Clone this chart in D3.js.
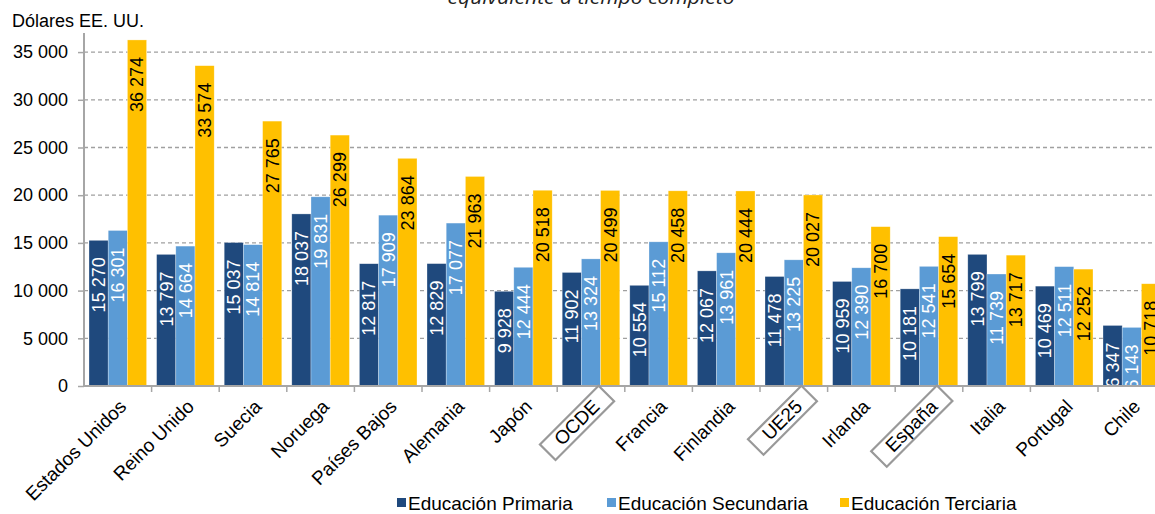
<!DOCTYPE html>
<html><head><meta charset="utf-8">
<script src="https://cdn.jsdelivr.net/npm/d3@7"></script>
<style>
html,body{margin:0;padding:0;background:#fff;}
svg{display:block;font-family:"Liberation Sans",Arial,sans-serif;}
</style></head>
<body><svg id="c" width="1155" height="514"></svg>
<script>
const categories = ["Estados Unidos","Reino Unido","Suecia","Noruega","Países Bajos","Alemania","Japón","OCDE","Francia","Finlandia","UE25","Irlanda","España","Italia","Portugal","Chile"];
const primaria   = [15270,13797,15037,18037,12817,12829,9928,11902,10554,12067,11478,10959,10181,13799,10469,6347];
const secundaria = [16301,14664,14814,19831,17909,17077,12444,13324,15112,13961,13225,12390,12541,11739,12511,6143];
const terciaria  = [36274,33574,27765,26299,23864,21963,20518,20499,20458,20444,20027,16700,15654,13717,12252,10718];
const seriesNames = ["Educación Primaria","Educación Secundaria","Educación Terciaria"];
const seriesColors = ["#1F497D","#5B9BD5","#FFC000"];
const labelColors = ["#ffffff","#ffffff","#000000"];
const boxed = ["OCDE","UE25","España"];
const yTicks = [0,5000,10000,15000,20000,25000,30000,35000];
const yTitle = "Dólares EE. UU.";
const chartTitle = "equivalente a tiempo completo";

const svg = d3.select("#c");
const left = 84, zeroY = 386, topY = 33;
const bandW = 67.6;
const x0 = d3.scaleBand().domain(categories).range([left, left + bandW*categories.length]).padding(0);
const x1 = d3.scaleBand().domain([0,1,2]).range([5, bandW-5]).padding(0);
const y = d3.scaleLinear().domain([0,37000]).range([zeroY, topY]);
const fmt = v => { const s = String(v); return s.length > 3 ? s.slice(0, s.length-3) + " " + s.slice(-3) : s; };

// title (cut off at top)
svg.append("text").attr("x", 591).attr("y", 4).attr("text-anchor","middle")
  .attr("font-family","'Open Sans',sans-serif").attr("font-style","italic").attr("font-size",18)
  .attr("textLength",287).attr("lengthAdjust","spacingAndGlyphs").attr("fill","#222").text(chartTitle);

// y title
svg.append("text").attr("x",12).attr("y",27).attr("font-size",18).attr("fill","#000").text(yTitle);

// gridlines
svg.append("g").selectAll("line").data(yTicks.filter(d=>d>0)).join("line")
  .attr("x1",left).attr("x2",1155).attr("y1",d=>y(d)).attr("y2",d=>y(d))
  .attr("stroke","#a0a0a0").attr("stroke-width",1.3).attr("stroke-dasharray","4,3");

// y axis
const yAxis = svg.append("g").attr("transform",`translate(${left},0)`)
  .call(d3.axisLeft(y).tickValues(yTicks).tickFormat(fmt).tickSize(6).tickPadding(10));
yAxis.select(".domain").remove();
yAxis.selectAll(".tick line").attr("stroke","#a6a6a6").attr("stroke-width",1.5);
yAxis.selectAll(".tick text").attr("font-size",18).attr("font-family","'Liberation Sans',Arial,sans-serif").attr("fill","#000");
svg.append("line").attr("x1",left).attr("x2",left).attr("y1",topY).attr("y2",zeroY)
  .attr("stroke","#a6a6a6").attr("stroke-width",2);

// bars
const data = categories.map((c,i)=>({cat:c, vals:[primaria[i],secundaria[i],terciaria[i]]}));
const groups = svg.append("g").selectAll("g").data(data).join("g")
  .attr("transform",d=>`translate(${x0(d.cat)},0)`);
groups.selectAll("rect").data(d=>d.vals.map((v,k)=>({v,k}))).join("rect")
  .attr("x",d=>x1(d.k)).attr("width",x1.bandwidth())
  .attr("y",d=>y(d.v)).attr("height",d=>zeroY-y(d.v))
  .attr("fill",d=>seriesColors[d.k]).attr("stroke","rgba(255,255,255,0.5)").attr("stroke-width",0.6);
groups.selectAll("text.lab").data(d=>d.vals.map((v,k)=>({v,k}))).join("text").attr("class","lab")
  .attr("transform",d=>`translate(${x1(d.k)+x1.bandwidth()/2},${y(d.v)+17}) rotate(-90)`)
  .attr("text-anchor","end").attr("dy","0.35em").attr("font-size",18)
  .attr("fill",d=>labelColors[d.k]).text(d=>fmt(d.v));

// x axis line and ticks
svg.append("line").attr("x1",left).attr("x2",1155).attr("y1",zeroY).attr("y2",zeroY)
  .attr("stroke","#a6a6a6").attr("stroke-width",2);
svg.append("g").selectAll("line").data(categories).join("line")
  .attr("x1",d=>x0(d)+bandW).attr("x2",d=>x0(d)+bandW).attr("y1",zeroY).attr("y2",zeroY+6)
  .attr("stroke","#a6a6a6").attr("stroke-width",1.5);

// category labels
const cl = svg.append("g").selectAll("g").data(categories).join("g")
  .attr("transform",d=>`translate(${x0(d)+bandW/2+5},${zeroY+17}) rotate(-45)`);
cl.append("text").attr("text-anchor","end").attr("dy","0.35em").attr("font-size",19).attr("fill","#000").text(d=>d);
cl.filter(d=>boxed.includes(d)).each(function(){
  const g = d3.select(this);
  const bb = g.select("text").node().getBBox();
  g.insert("rect","text").attr("x",bb.x-14).attr("y",bb.y).attr("width",bb.width+28).attr("height",bb.height+1)
    .attr("fill","none").attr("stroke","#999").attr("stroke-width",2.2);
});

// legend
const legX = [397,607,840];
const leg = svg.append("g").selectAll("g").data(seriesNames).join("g")
  .attr("transform",(d,i)=>`translate(${legX[i]},503)`);
leg.append("rect").attr("x",0).attr("y",-5).attr("width",9).attr("height",9).attr("fill",(d,i)=>seriesColors[i]);
leg.append("text").attr("x",11).attr("y",0).attr("dy","0.35em").attr("font-size",19).attr("fill","#000").text(d=>d);
</script></body></html>
